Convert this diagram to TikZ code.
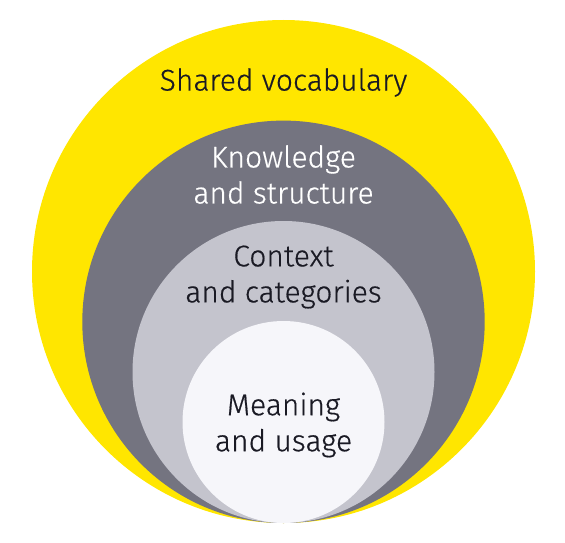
\documentclass[tikz,border=0pt]{standalone}
\usepackage{fontspec}
\newfontfamily\labelfont{Fira Sans Light}[FakeBold=0.5]
\definecolor{eyyellow}{HTML}{FFE600}
\definecolor{darkgrey}{HTML}{747480}
\definecolor{lightgrey}{HTML}{C4C4CD}
\definecolor{paleGrey}{HTML}{F6F6FA}
\definecolor{inktext}{HTML}{1A1A24}
\tikzset{
  ring/.style={draw=none},
  label/.style={align=center, inner sep=0pt, font=\fontsize{30}{36}\labelfont}
}
\begin{document}
\begin{tikzpicture}[x=1pt,y=-1pt]
\useasboundingbox (0,0) rectangle (565,543);
\fill[ring, eyyellow] (283.5,271.5) circle[radius=251.5];
\fill[ring, darkgrey] (283.5,321.8) circle[radius=201.2];
\fill[ring, lightgrey] (283.5,372) circle[radius=151];
\fill[ring, paleGrey] (283.5,422) circle[radius=101];
\node[label, text=inktext] (shared) at (283.5,82.5) {Shared vocabulary};
\node[label, text=white] (know) at (283.5,174.5) {Knowledge\\and structure};
\node[label, text=inktext] (context) at (283.5,277) {Context\\and categories};
\node[label, text=inktext] (meaning) at (283.5,425) {Meaning\\and usage};
\end{tikzpicture}
\end{document}
